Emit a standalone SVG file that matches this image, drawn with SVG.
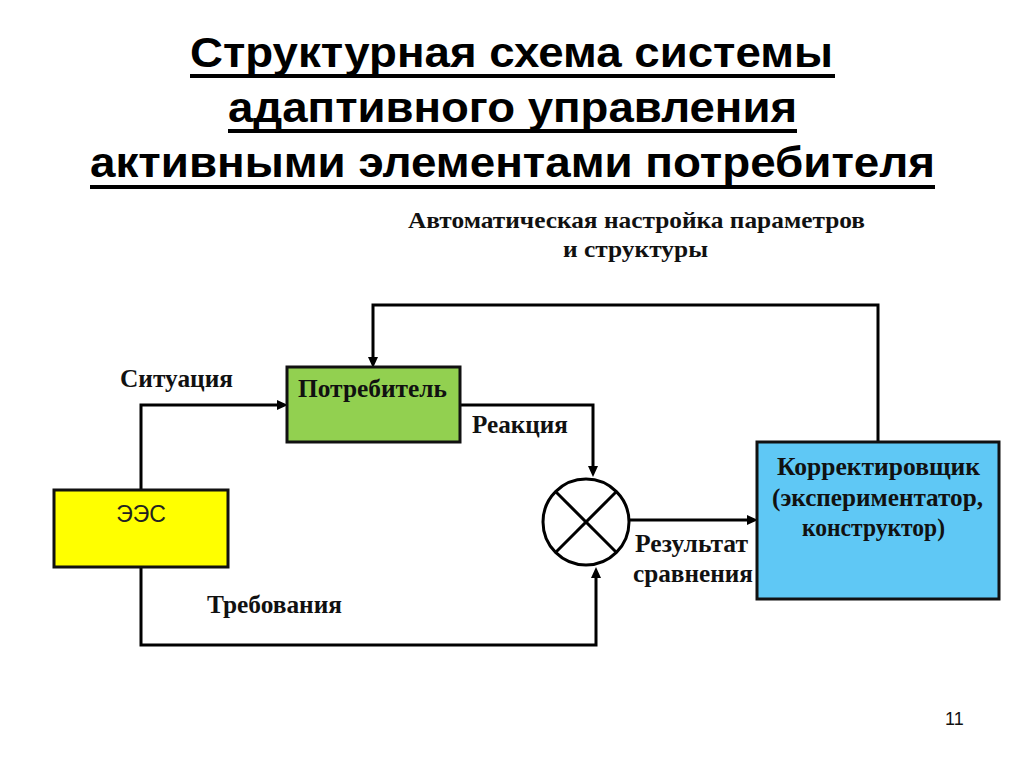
<svg xmlns="http://www.w3.org/2000/svg" width="1024" height="767" viewBox="0 0 1024 767">
<style>
.title{font-family:"Liberation Sans Narrow","Liberation Sans",Arial,sans-serif;font-weight:bold;font-size:43px;fill:#000}
.lbl{font-family:"Liberation Serif","Times New Roman",serif;font-weight:bold;font-size:25px;fill:#111}
.box{stroke:#111;stroke-width:3}
.ln{fill:none;stroke:#000;stroke-width:3}
.ul{stroke:#000;stroke-width:4}
</style>
<defs>
<marker id="ah" markerUnits="userSpaceOnUse" markerWidth="12" markerHeight="10" refX="0" refY="5" orient="auto">
<path d="M0,0 L11,5 L0,10 Z" fill="#000"/>
</marker>
</defs>
<rect width="1024" height="767" fill="#fff"/>
<g id="title">
<text class="title" x="190" y="67" textLength="643" lengthAdjust="spacingAndGlyphs">Структурная схема системы</text>
<line class="ul" x1="190" y1="76" x2="835" y2="76"/>
<text class="title" x="228" y="122" textLength="569" lengthAdjust="spacingAndGlyphs">адаптивного управления</text>
<line class="ul" x1="228" y1="131" x2="797" y2="131"/>
<text class="title" x="90" y="177" textLength="845" lengthAdjust="spacingAndGlyphs">активными элементами потребителя</text>
<line class="ul" x1="90" y1="187" x2="935" y2="187"/>
</g>
<g id="top-label">
<text class="lbl" x="408" y="228" style="font-size:23px" textLength="457" lengthAdjust="spacingAndGlyphs">Автоматическая настройка параметров</text>
<text class="lbl" x="563" y="257" style="font-size:23px" textLength="145" lengthAdjust="spacingAndGlyphs">и структуры</text>
</g>
<g id="connectors">
<path class="ln" d="M141,490 V405 H277" marker-end="url(#ah)"/>
<path class="ln" d="M141,567 V645 H596 V578" marker-end="url(#ah)"/>
<path class="ln" d="M460,405 H593 V466" marker-end="url(#ah)"/>
<path class="ln" d="M628,520 H747" marker-end="url(#ah)"/>
<path class="ln" d="M878,442 V305 H373 V357" marker-end="url(#ah)"/>
</g>
<g id="lbl-situation"><text class="lbl" x="120" y="387" textLength="113" lengthAdjust="spacingAndGlyphs">Ситуация</text></g>
<g id="lbl-requirements"><text class="lbl" x="207" y="613" textLength="135" lengthAdjust="spacingAndGlyphs">Требования</text></g>
<g id="lbl-reaction"><text class="lbl" x="472" y="433" textLength="96" lengthAdjust="spacingAndGlyphs">Реакция</text></g>
<g id="lbl-result">
<text class="lbl" x="635" y="552" textLength="113" lengthAdjust="spacingAndGlyphs">Результат</text>
<text class="lbl" x="633" y="582" textLength="120" lengthAdjust="spacingAndGlyphs">сравнения</text>
</g>
<g id="ees">
<rect class="box" x="54" y="490" width="174" height="77" fill="#FFFF00"/>
<text x="141" y="522" text-anchor="middle" font-family="Liberation Sans,Arial,sans-serif" font-size="23" fill="#222">ЭЭС</text>
</g>
<g id="consumer">
<rect class="box" x="287" y="367" width="173" height="75" fill="#92D050"/>
<text class="lbl" x="298" y="397" fill="#0d2a10" textLength="149" lengthAdjust="spacingAndGlyphs">Потребитель</text>
</g>
<g id="comparator">
<circle cx="586" cy="522" r="43" fill="#fff" stroke="#000" stroke-width="3"/>
<line class="ln" x1="556" y1="492" x2="616" y2="552"/>
<line class="ln" x1="616" y1="492" x2="556" y2="552"/>
</g>
<g id="corrector">
<rect class="box" x="757" y="442" width="242" height="157" fill="#5FC8F5"/>
<text class="lbl" x="777" y="475" fill="#0a2233" textLength="203" lengthAdjust="spacingAndGlyphs">Корректировщик</text>
<text class="lbl" x="772" y="506" fill="#0a2233" textLength="211" lengthAdjust="spacingAndGlyphs">(экспериментатор,</text>
<text class="lbl" x="802" y="536" fill="#0a2233" textLength="143" lengthAdjust="spacingAndGlyphs">конструктор)</text>
</g>
<g id="page-number">
<text x="945" y="725" font-family="Liberation Sans,Arial,sans-serif" font-size="18" fill="#111">11</text>
</g>
</svg>
